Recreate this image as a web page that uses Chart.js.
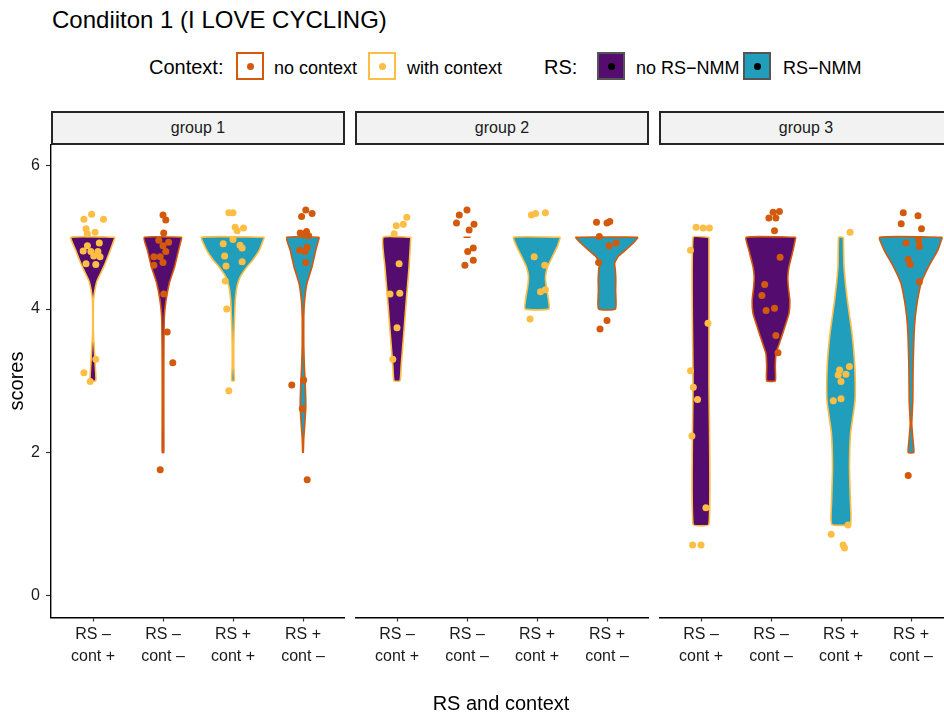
<!DOCTYPE html>
<html>
<head>
<meta charset="utf-8">
<title>Condiiton 1</title>
<script src="https://cdn.jsdelivr.net/npm/chart.js@4.4.1/dist/chart.umd.min.js"></script>
<style>
  body { margin: 0; width: 944px; height: 715px; overflow: hidden; background: #fff; position: relative;
         font-family: 'Liberation Sans', Arial, sans-serif; color: #000; }
  .txt { position: absolute; white-space: nowrap; line-height: 1; }
  canvas { position: absolute; top: 144px; }
  .strip { position: absolute; top: 111px; height: 34px; box-sizing: border-box; border: 2px solid #262626;
           background: #f2f2f2; font-size: 16px; color: #1a1a1a; display: flex; align-items: center; justify-content: center; }
  .key { position: absolute; top: 52px; width: 28px; height: 28px; box-sizing: border-box; border: 2px solid; }
  .key span { position: absolute; left: 50%; top: 50%; width: 7px; height: 7px; margin: -3.5px 0 0 -3.5px; border-radius: 50%; }
</style>
</head>
<body>

<div class="txt" style="left:52px; top:8px; font-size:24px;">Condiiton 1 (I LOVE CYCLING)</div>

<div class="txt" style="left:149px; top:57px; font-size:20px;">Context:</div>
<div class="key" style="left:236px; border-color:#D35A0C; background:#fff;"><span style="background:#D35A0C"></span></div>
<div class="txt" style="left:274px; top:59px; font-size:18px;">no context</div>
<div class="key" style="left:368px; border-color:#FDBE45; background:#fff;"><span style="background:#FDBE45"></span></div>
<div class="txt" style="left:407px; top:59px; font-size:18px;">with context</div>

<div class="txt" style="left:544px; top:57px; font-size:20px;">RS:</div>
<div class="key" style="left:597px; border-color:#555; background:#540D6E;"><span style="background:#000"></span></div>
<div class="txt" style="left:636px; top:59px; font-size:18px;">no RS−NMM</div>
<div class="key" style="left:743px; border-color:#555; background:#219EBC;"><span style="background:#000"></span></div>
<div class="txt" style="left:783px; top:59px; font-size:18px;">RS−NMM</div>

<div class="strip" style="left:51px; width:294px;">group 1</div>
<div class="strip" style="left:355px; width:294px;">group 2</div>
<div class="strip" style="left:659px; width:294px;">group 3</div>

<canvas id="panel-1" width="345" height="571" style="left:0px;"></canvas>
<canvas id="panel-2" width="294" height="571" style="left:355px;"></canvas>
<canvas id="panel-3" width="294" height="571" style="left:659px;"></canvas>

<div class="txt" style="left:-34px; top:371px; width:100px; line-height:20px; font-size:20px; text-align:center; transform:rotate(-90deg);">scores</div>
<div class="txt" style="left:401px; top:693px; width:200px; font-size:20px; text-align:center;">RS and context</div>

<script>
'use strict';

/// GLOBAL VARIABLES
// x categories (1..4 on each panel)
let catLabels = [['RS –', 'cont +'], ['RS –', 'cont –'], ['RS +', 'cont +'], ['RS +', 'cont –']];
let catRS = ['no', 'no', 'yes', 'yes'];
let catContext = ['with', 'no', 'with', 'no'];
let yTicks = [0, 2, 4, 6];

let rsColors = { no: '#540D6E', yes: '#219EBC' };
let contextColors = { no: '#D35A0C', with: '#FDBE45' };

// jittered points [x, score], one list per category
let g1Points = [
  [[0.98, 5.32], [0.87, 5.25], [1.15, 5.25], [0.90, 5.12], [1.03, 5.07], [0.92, 5.05], [0.92, 4.88], [1.09, 4.92], [0.86, 4.81],
   [0.97, 4.80], [1.07, 4.80], [1.10, 4.73], [1.01, 4.74], [0.90, 4.63], [1.04, 4.62], [1.04, 3.30], [0.87, 3.11], [0.96, 2.99]],
  [[2.00, 5.31], [2.04, 5.24], [2.01, 5.06], [1.94, 4.96], [2.08, 4.93], [2.00, 4.88], [2.04, 4.80], [1.87, 4.73], [1.96, 4.73],
   [2.00, 4.65], [1.87, 4.61], [2.01, 4.21], [2.06, 3.68], [2.14, 3.25], [1.96, 1.76]],
  [[2.94, 5.34], [3.00, 5.34], [3.03, 5.14], [3.15, 5.13], [3.06, 5.09], [3.00, 4.97], [2.86, 4.91], [3.10, 4.89], [3.13, 4.85],
   [2.88, 4.74], [3.13, 4.66], [2.90, 4.60], [2.89, 4.39], [2.91, 4.00], [2.94, 2.86]],
  [[4.04, 5.38], [3.98, 5.29], [4.13, 5.33], [3.96, 5.06], [4.05, 5.08], [4.08, 5.02], [4.02, 5.03], [3.95, 4.82], [4.03, 4.80],
   [4.06, 4.86], [4.04, 4.65], [3.84, 2.94], [4.01, 3.01], [3.99, 2.61], [4.06, 1.62]]
];
let g2Points = [
  [[1.14, 5.28], [1.09, 5.18], [0.99, 5.16], [0.96, 5.05], [1.03, 4.63], [0.90, 4.21], [1.04, 4.22], [1.00, 3.74], [0.94, 3.30]],
  [[2.00, 5.38], [1.89, 5.31], [1.85, 5.20], [2.10, 5.18], [2.03, 5.10], [2.09, 4.85], [2.01, 4.80], [2.09, 4.68], [1.97, 4.61]],
  [[2.92, 5.31], [2.98, 5.33], [3.12, 5.34], [2.96, 4.73], [3.11, 4.61], [3.05, 4.24], [3.12, 4.27], [2.90, 3.86]],
  [[3.85, 5.21], [4.00, 5.20], [4.04, 5.22], [3.89, 5.01], [4.03, 4.88], [4.13, 4.92], [3.88, 4.65], [4.00, 3.84], [3.90, 3.72]]
];
let g3Points = [
  [[0.93, 5.14], [1.03, 5.13], [1.12, 5.13], [0.85, 4.82], [1.10, 3.80], [0.85, 3.14], [0.89, 2.91], [0.95, 2.74], [0.87, 2.23],
   [1.07, 1.23], [0.88, 0.71], [1.00, 0.71]],
  [[2.03, 5.35], [2.12, 5.36], [1.97, 5.27], [2.07, 5.27], [2.05, 5.09], [2.13, 4.72], [1.91, 4.34], [1.87, 4.19], [1.93, 3.98],
   [2.05, 4.01], [2.07, 3.63], [2.10, 3.39]],
  [[3.13, 5.07], [3.12, 3.20], [2.98, 3.15], [3.07, 3.09], [2.96, 3.08], [3.00, 2.99], [2.89, 2.72], [3.00, 2.75], [3.10, 0.99],
   [2.86, 0.86], [3.03, 0.71], [3.05, 0.67]],
  [[3.89, 5.34], [4.10, 5.30], [3.86, 5.19], [4.15, 5.12], [3.93, 4.92], [4.11, 4.96], [4.12, 4.87], [3.96, 4.69], [3.99, 4.62],
   [4.12, 4.38], [3.96, 1.68]]
];

// violin profiles [score, half width], read top to bottom
let g1Violins = [
  [[5, 0.314], [4.82, 0.247], [4.59, 0.154], [4.40, 0.061], [4.26, 0.026], [4.12, 0.008], [3.89, 0.004], [3.66, 0.006], [3.43, 0.019], [3.2, 0.033], [3.0, 0.04]],
  [[5, 0.269], [4.82, 0.223], [4.59, 0.166], [4.36, 0.09], [4.12, 0.043], [3.89, 0.019], [3.5, 0.013], [3.0, 0.011], [2.5, 0.011], [2.0, 0.011]],
  [[5, 0.447], [4.82, 0.376], [4.68, 0.28], [4.59, 0.2], [4.45, 0.104], [4.31, 0.057], [4.12, 0.033], [3.89, 0.023], [3.66, 0.014], [3.43, 0.011], [3.2, 0.011], [3.0, 0.019]],
  [[5, 0.233], [4.82, 0.183], [4.59, 0.129], [4.36, 0.057], [4.12, 0.023], [3.89, 0.011], [3.5, 0.011], [3.2, 0.019], [3.0, 0.03], [2.8, 0.037], [2.65, 0.04], [2.4, 0.026], [2.2, 0.011], [2.0, 0.004]]
];
let g2Violins = [
  [[5, 0.197], [4.59, 0.173], [4.12, 0.133], [3.66, 0.097], [3.2, 0.059], [3.0, 0.043]],
  [[5, 0.05]],
  [[5, 0.333], [4.87, 0.29], [4.73, 0.219], [4.59, 0.151], [4.45, 0.121], [4.31, 0.133], [4.17, 0.157], [4.0, 0.169]],
  [[5, 0.444], [4.92, 0.376], [4.82, 0.264], [4.73, 0.157], [4.64, 0.109], [4.54, 0.119], [4.40, 0.126], [4.26, 0.123], [4.0, 0.121]]
];
let g3Violins = [
  [[5, 0.114], [3, 0.114], [1, 0.114]],
  [[5, 0.354], [4.82, 0.316], [4.59, 0.257], [4.45, 0.24], [4.31, 0.247], [4.12, 0.269], [3.94, 0.257], [3.75, 0.197], [3.57, 0.137], [3.38, 0.073], [3.2, 0.061], [3.0, 0.061]],
  [[5, 0.033], [4.59, 0.043], [4.13, 0.09], [3.66, 0.157], [3.2, 0.197], [2.73, 0.201], [2.27, 0.137], [1.8, 0.121], [1.34, 0.133], [1.0, 0.133]],
  [[5, 0.447], [4.82, 0.383], [4.59, 0.251], [4.36, 0.144], [4.12, 0.093], [3.89, 0.061], [3.66, 0.044], [3.2, 0.03], [2.73, 0.026], [2.4, 0.011], [2.2, 0.026], [2.0, 0.04]]
];

Chart.defaults.font.family = "'Liberation Sans', Arial, sans-serif";
Chart.defaults.color = '#1a1a1a';

// HELPER FUNCTIONS
// closed outline: right side going down, left side coming back up
function violinOutline(cat, profile) {
  let right = profile.map(p => ({ x: cat + p[1], y: p[0] }));
  let left = profile.slice().reverse().map(p => ({ x: cat - p[1], y: p[0] }));
  return right.concat(left, [right[0]]);
}

function makePanel(canvasId, points, violins, showY) {
  let datasets = [];

  for (let i = 0; i < 4; i++) {
    let col = contextColors[catContext[i]];
    datasets.push({
      data: points[i].map(p => ({ x: p[0], y: p[1] })),
      backgroundColor: col,
      borderColor: col,
      borderWidth: 0,
      pointRadius: 3.5,
      showLine: false,
      order: 0,
    });
  }

  for (let i = 0; i < 4; i++) {
    datasets.push({
      data: violinOutline(i + 1, violins[i]),
      showLine: true,
      fill: 'shape',
      backgroundColor: rsColors[catRS[i]],
      borderColor: contextColors[catContext[i]],
      borderWidth: 1.6,
      pointRadius: 0,
      tension: 0.15,
      order: 1,
    });
  }

  let config = {
    type: 'scatter',
    data: { datasets: datasets },
    options: {
      responsive: false,
      animation: false,
      devicePixelRatio: 1,
      layout: { padding: 0, autoPadding: false },
      plugins: { legend: { display: false }, tooltip: { enabled: false } },
      scales: {
        x: {
          type: 'linear',
          min: 0.4,
          max: 4.6,
          afterBuildTicks: (scale) => { scale.ticks = [1, 2, 3, 4].map(v => ({ value: v })); },
          afterFit: (scale) => {
            scale.height = 97.5;
            scale.paddingLeft = 0;
            scale.paddingRight = 0;
          },
          ticks: {
            callback: (v) => catLabels[v - 1],
            font: { size: 16, lineHeight: 1.4 },
            color: '#1a1a1a',
            padding: 1.5,
            maxRotation: 0,
            autoSkip: false,
          },
          grid: { drawOnChartArea: false, tickLength: 4, tickColor: '#333', tickWidth: 1.2 },
          border: { display: true, color: '#000', width: 1.4 },
        },
        y: {
          display: showY,
          min: -0.3,
          max: 6.3,
          afterBuildTicks: (scale) => { scale.ticks = yTicks.map(v => ({ value: v })); },
          afterFit: (scale) => {
            scale.width = showY ? 51 : 0;
            scale.paddingTop = 0;
            scale.paddingBottom = 0;
          },
          ticks: { font: { size: 16 }, color: '#1a1a1a', padding: 6 },
          grid: { drawOnChartArea: false, tickLength: 5, tickColor: '#333', tickWidth: 1.2 },
          border: { display: true, color: '#000', width: 1.4 },
        },
      },
    },
  };

  return new Chart(document.getElementById(canvasId), config);
}

//EXCUTABLE CODE
makePanel('panel-1', g1Points, g1Violins, true);
makePanel('panel-2', g2Points, g2Violins, false);
makePanel('panel-3', g3Points, g3Violins, false);
</script>
</body>
</html>
